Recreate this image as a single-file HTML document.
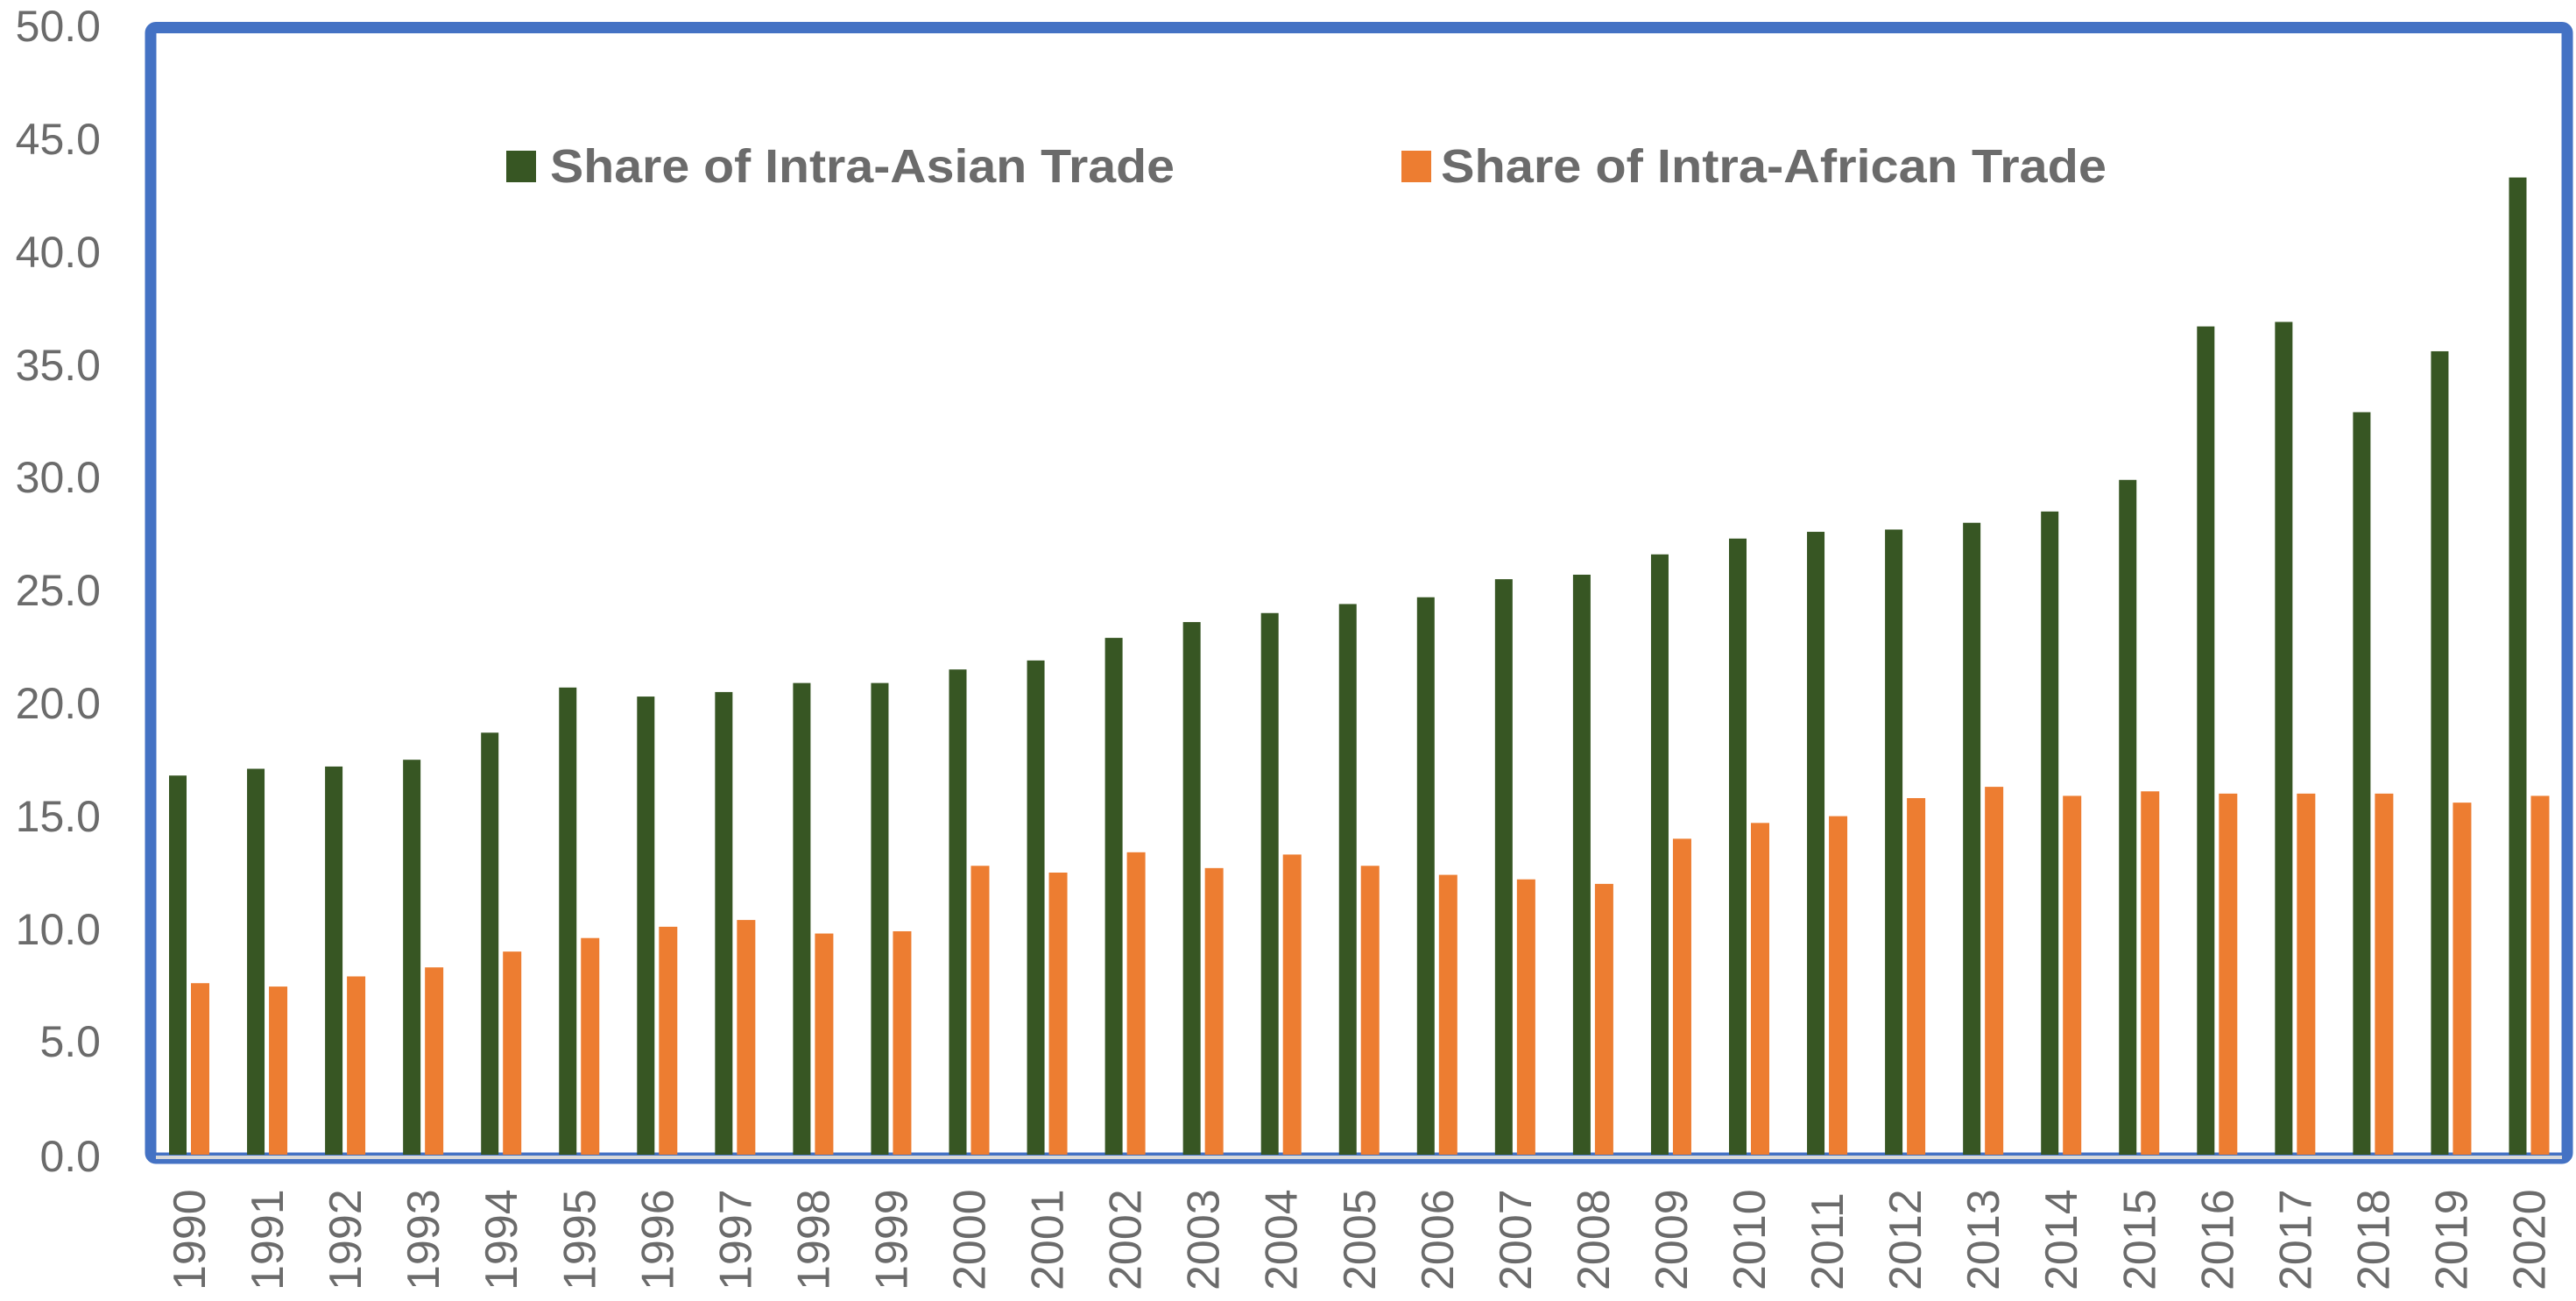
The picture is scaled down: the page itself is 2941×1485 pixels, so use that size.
<!DOCTYPE html>
<html><head><meta charset="utf-8"><style>html,body{margin:0;padding:0;background:#fff;width:2941px;height:1485px;overflow:hidden}</style></head>
<body>
<svg width="2941" height="1485" viewBox="0 0 2941 1485" xmlns="http://www.w3.org/2000/svg" font-family="Liberation Sans, sans-serif">
<rect x="0" y="0" width="2941" height="1485" fill="#fff"/>
<g font-size="50" fill="#6b6b6b" text-anchor="end" dominant-baseline="central">
<text x="115" y="30">50.0</text><text x="115" y="159">45.0</text><text x="115" y="288">40.0</text><text x="115" y="417">35.0</text><text x="115" y="545">30.0</text><text x="115" y="674">25.0</text><text x="115" y="803">20.0</text><text x="115" y="932">15.0</text><text x="115" y="1061">10.0</text><text x="115" y="1189">5.0</text><text x="115" y="1320">0.0</text>
</g>
<rect x="172" y="31.5" width="2759" height="1290.5" rx="6" fill="none" stroke="#4472C4" stroke-width="13"/>
<line x1="178" y1="1321" x2="2925" y2="1321" stroke="#d9d9d9" stroke-width="4"/>
<g transform="translate(0,1318) scale(1,-25.76)">
<g fill="#375623">
<rect x="193" y="0" width="20" height="16.8"/><rect x="282.05" y="0" width="20" height="17.1"/><rect x="371.1" y="0" width="20" height="17.2"/><rect x="460.15" y="0" width="20" height="17.5"/><rect x="549.2" y="0" width="20" height="18.7"/><rect x="638.25" y="0" width="20" height="20.7"/><rect x="727.3" y="0" width="20" height="20.3"/><rect x="816.35" y="0" width="20" height="20.5"/><rect x="905.4" y="0" width="20" height="20.9"/><rect x="994.45" y="0" width="20" height="20.9"/><rect x="1083.5" y="0" width="20" height="21.5"/><rect x="1172.55" y="0" width="20" height="21.9"/><rect x="1261.6" y="0" width="20" height="22.9"/><rect x="1350.65" y="0" width="20" height="23.6"/><rect x="1439.7" y="0" width="20" height="24.0"/><rect x="1528.75" y="0" width="20" height="24.4"/><rect x="1617.8" y="0" width="20" height="24.7"/><rect x="1706.85" y="0" width="20" height="25.5"/><rect x="1795.9" y="0" width="20" height="25.7"/><rect x="1884.95" y="0" width="20" height="26.6"/><rect x="1974" y="0" width="20" height="27.3"/><rect x="2063.05" y="0" width="20" height="27.6"/><rect x="2152.1" y="0" width="20" height="27.7"/><rect x="2241.15" y="0" width="20" height="28.0"/><rect x="2330.2" y="0" width="20" height="28.5"/><rect x="2419.25" y="0" width="20" height="29.9"/><rect x="2508.3" y="0" width="20" height="36.7"/><rect x="2597.35" y="0" width="20" height="36.9"/><rect x="2686.4" y="0" width="20" height="32.9"/><rect x="2775.45" y="0" width="20" height="35.6"/><rect x="2864.5" y="0" width="20" height="43.3"/>
</g>
<g fill="#ED7D31">
<rect x="218" y="0" width="21" height="7.6"/><rect x="307.05" y="0" width="21" height="7.45"/><rect x="396.1" y="0" width="21" height="7.9"/><rect x="485.15" y="0" width="21" height="8.3"/><rect x="574.2" y="0" width="21" height="9.0"/><rect x="663.25" y="0" width="21" height="9.6"/><rect x="752.3" y="0" width="21" height="10.1"/><rect x="841.35" y="0" width="21" height="10.4"/><rect x="930.4" y="0" width="21" height="9.8"/><rect x="1019.45" y="0" width="21" height="9.9"/><rect x="1108.5" y="0" width="21" height="12.8"/><rect x="1197.55" y="0" width="21" height="12.5"/><rect x="1286.6" y="0" width="21" height="13.4"/><rect x="1375.65" y="0" width="21" height="12.7"/><rect x="1464.7" y="0" width="21" height="13.3"/><rect x="1553.75" y="0" width="21" height="12.8"/><rect x="1642.8" y="0" width="21" height="12.4"/><rect x="1731.85" y="0" width="21" height="12.2"/><rect x="1820.9" y="0" width="21" height="12.0"/><rect x="1909.95" y="0" width="21" height="14.0"/><rect x="1999" y="0" width="21" height="14.7"/><rect x="2088.05" y="0" width="21" height="15.0"/><rect x="2177.1" y="0" width="21" height="15.8"/><rect x="2266.15" y="0" width="21" height="16.3"/><rect x="2355.2" y="0" width="21" height="15.9"/><rect x="2444.25" y="0" width="21" height="16.1"/><rect x="2533.3" y="0" width="21" height="16.0"/><rect x="2622.35" y="0" width="21" height="16.0"/><rect x="2711.4" y="0" width="21" height="16.0"/><rect x="2800.45" y="0" width="21" height="15.6"/><rect x="2889.5" y="0" width="21" height="15.9"/>
</g>
</g>
<g font-size="52" fill="#6b6b6b" dominant-baseline="central">
<text transform="translate(217,1473) rotate(-90)">1990</text><text transform="translate(306.05,1473) rotate(-90)">1991</text><text transform="translate(395.1,1473) rotate(-90)">1992</text><text transform="translate(484.15,1473) rotate(-90)">1993</text><text transform="translate(573.2,1473) rotate(-90)">1994</text><text transform="translate(662.25,1473) rotate(-90)">1995</text><text transform="translate(751.3,1473) rotate(-90)">1996</text><text transform="translate(840.35,1473) rotate(-90)">1997</text><text transform="translate(929.4,1473) rotate(-90)">1998</text><text transform="translate(1018.45,1473) rotate(-90)">1999</text><text transform="translate(1107.5,1473) rotate(-90)">2000</text><text transform="translate(1196.55,1473) rotate(-90)">2001</text><text transform="translate(1285.6,1473) rotate(-90)">2002</text><text transform="translate(1374.65,1473) rotate(-90)">2003</text><text transform="translate(1463.7,1473) rotate(-90)">2004</text><text transform="translate(1552.75,1473) rotate(-90)">2005</text><text transform="translate(1641.8,1473) rotate(-90)">2006</text><text transform="translate(1730.85,1473) rotate(-90)">2007</text><text transform="translate(1819.9,1473) rotate(-90)">2008</text><text transform="translate(1908.95,1473) rotate(-90)">2009</text><text transform="translate(1998,1473) rotate(-90)">2010</text><text transform="translate(2087.05,1473) rotate(-90)">2011</text><text transform="translate(2176.1,1473) rotate(-90)">2012</text><text transform="translate(2265.15,1473) rotate(-90)">2013</text><text transform="translate(2354.2,1473) rotate(-90)">2014</text><text transform="translate(2443.25,1473) rotate(-90)">2015</text><text transform="translate(2532.3,1473) rotate(-90)">2016</text><text transform="translate(2621.35,1473) rotate(-90)">2017</text><text transform="translate(2710.4,1473) rotate(-90)">2018</text><text transform="translate(2799.45,1473) rotate(-90)">2019</text><text transform="translate(2888.5,1473) rotate(-90)">2020</text>
</g>
<rect x="578" y="172" width="34" height="36" fill="#375623"/>
<text x="628" y="190" font-size="54" font-weight="bold" fill="#6b6b6b" dominant-baseline="central" textLength="713" lengthAdjust="spacingAndGlyphs">Share of Intra-Asian Trade</text>
<rect x="1600" y="172" width="34" height="36" fill="#ED7D31"/>
<text x="1645" y="190" font-size="54" font-weight="bold" fill="#6b6b6b" dominant-baseline="central" textLength="760" lengthAdjust="spacingAndGlyphs">Share of Intra-African Trade</text>
</svg>
</body></html>
